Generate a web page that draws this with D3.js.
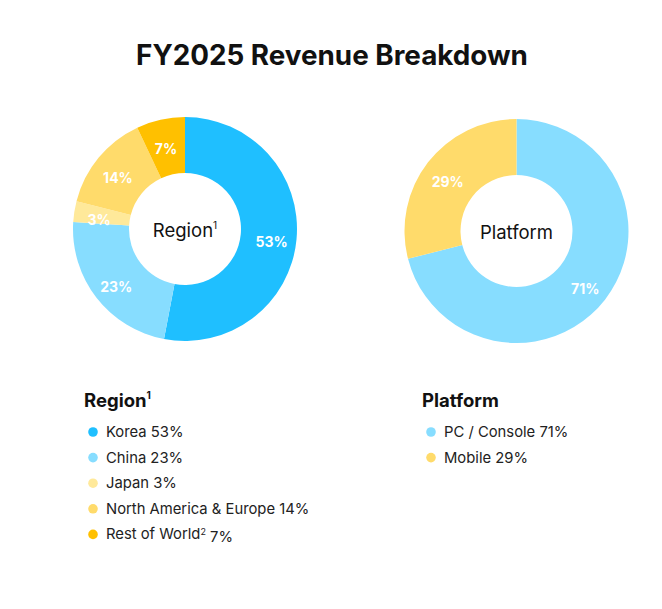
<!DOCTYPE html>
<html><head><meta charset="utf-8">
<script src="https://cdn.jsdelivr.net/npm/d3@7/dist/d3.min.js"></script>
<style>
html,body{margin:0;padding:0;background:#fff;}
svg{display:block;font-family:Inter, "Open Sans", sans-serif;}
</style></head>
<body><svg id="chart" width="662" height="609"></svg>
<script>
const title = "FY2025 Revenue Breakdown";
const regionLabels = ["Korea", "China", "Japan", "North America & Europe", "Rest of World"];
const regionNotes = ["", "", "", "", "2"];
const regionValues = [53, 23, 3, 14, 7];
const regionColors = ["#1fbfff", "#87ddff", "#ffe99a", "#ffdb6b", "#ffc000"];
const platformLabels = ["PC / Console", "Mobile"];
const platformValues = [71, 29];
const platformColors = ["#87ddff", "#ffdb6b"];

const svg = d3.select("#chart");

svg.append("text").attr("x", 332).attr("y", 55).attr("text-anchor", "middle")
  .attr("dominant-baseline", "central")
  .attr("font-size", 27.8).attr("font-weight", 700).attr("fill", "#111").text(title);

function donut(cx, cy, labels, values, colors, centerText, centerNote) {
  const g = svg.append("g").attr("transform", `translate(${cx},${cy})`);
  const data = labels.map((l, i) => ({label: l, value: values[i], color: colors[i]}));
  const pie = d3.pie().value(d => d.value).sort(null);
  const arc = d3.arc().innerRadius(56).outerRadius(112);
  const labelArc = d3.arc().innerRadius(87).outerRadius(87);
  const arcs = pie(data);
  g.selectAll("path.slice").data(arcs).join("path").attr("class", "slice")
    .attr("d", arc).attr("fill", d => d.data.color);
  g.selectAll("text.pct").data(arcs).join("text").attr("class", "pct")
    .attr("transform", d => { const c = labelArc.centroid(d); return `translate(${c[0]},${c[1] + 4})`; })
    .attr("text-anchor", "middle").attr("dominant-baseline", "central")
    .attr("font-size", 14).attr("font-weight", 700).attr("fill", "#fff")
    .text(d => d.data.value + "%");
  const t = g.append("text").attr("x", 0).attr("y", 1).attr("text-anchor", "middle")
    .attr("dominant-baseline", "central").attr("font-size", 18.5).attr("fill", "#111");
  t.append("tspan").text(centerText);
  if (centerNote) t.append("tspan").attr("font-size", 10).attr("dy", "-0.5em").text(centerNote);
}

donut(185, 229, regionLabels, regionValues, regionColors, "Region", "1");
donut(516.5, 231, platformLabels, platformValues, platformColors, "Platform", "");

function legend(x, y, titleText, titleNote, labels, notes, values, colors) {
  const g = svg.append("g").attr("transform", `translate(${x},${y})`);
  const t = g.append("text").attr("x", 0).attr("y", 0).attr("dominant-baseline", "central")
    .attr("font-size", 18.5).attr("font-weight", 700).attr("fill", "#111");
  t.append("tspan").text(titleText);
  if (titleNote) t.append("tspan").attr("font-size", 10).attr("dy", "-0.5em").text(titleNote);
  const rows = g.selectAll("g.row").data(labels).join("g").attr("class", "row")
    .attr("transform", (d, i) => `translate(0,${32 + i * 25.6})`);
  rows.append("circle").attr("cx", 9).attr("cy", 0).attr("r", 4.8).attr("fill", (d, i) => colors[i]);
  rows.each(function(d, i) {
    const tx = d3.select(this).append("text").attr("x", 22).attr("y", 0)
      .attr("dominant-baseline", "central").attr("font-size", 14.8).attr("fill", "#222");
    tx.append("tspan").text(d);
    if (notes[i]) {
      tx.append("tspan").attr("font-size", 9).attr("dy", "-0.4em").text(notes[i]);
      tx.append("tspan").attr("dy", "0.4em").text(" " + values[i] + "%");
    } else {
      tx.append("tspan").text(" " + values[i] + "%");
    }
  });
}

legend(84, 400, "Region", "1", regionLabels, regionNotes, regionValues, regionColors);
legend(422, 400, "Platform", "", platformLabels, ["", ""], platformValues, platformColors);
</script></body></html>
